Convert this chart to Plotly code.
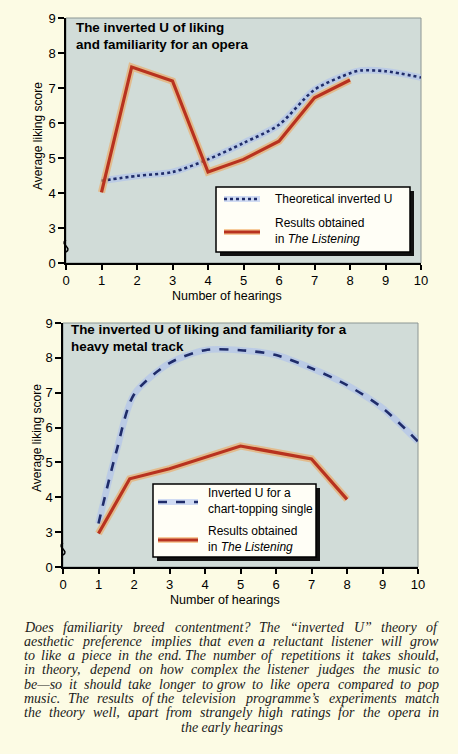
import plotly.graph_objects as go

W, H = 458, 754

# ---- data ----
hearings = list(range(11))
y_tickvals = [2, 3, 4, 5, 6, 7, 8, 9]
y_ticktext = ["0", "3", "4", "5", "6", "7", "8", "9"]

opera_theory_x = [1, 2, 3, 4, 5, 6, 7, 8, 8.3, 9, 10]
opera_theory_y = [4.35, 4.49, 4.6, 4.96, 5.43, 5.95, 6.95, 7.42, 7.5, 7.48, 7.3]
opera_result_x = [1, 1.85, 3, 4, 5, 6, 7, 8]
opera_result_y = [4.02, 7.6, 7.2, 4.6, 4.96, 5.48, 6.72, 7.23]

metal_theory_x = [1, 1.5, 2, 3, 4, 5, 6, 7, 8, 9, 10]
metal_theory_y = [3.25, 5.3, 6.95, 7.85, 8.22, 8.22, 8.08, 7.7, 7.22, 6.56, 5.6]
metal_result_x = [1, 1.88, 3, 5, 7, 8]
metal_result_y = [2.96, 4.53, 4.82, 5.47, 5.1, 3.94]

caption_lines = [
    "Does familiarity breed contentment? The \u201cinverted U\u201d theory of",
    "aesthetic preference implies that even a reluctant listener will grow",
    "to like a piece in the end. The number of repetitions it takes should,",
    "in theory, depend on how complex the listener judges the music to",
    "be\u2014so it should take longer to grow to like opera compared to pop",
    "music. The results of the television programme\u2019s experiments match",
    "the theory well, apart from strangely high ratings for the opera in",
    "the early hearings",
]

PAGE = "#fcfbe4"
PLOT_BG = "#d1dcd8"
RED = "#b8321f"
BLUE = "#1f2c6a"
SANS = "Liberation Sans"


def px(x):
    return x / W


def py(y):
    return 1 - y / H


fig = go.Figure()


def add_series(x, y, xa, ya, color, halo, dash, width, shape):
    # soft printed halo under each line
    fig.add_trace(go.Scatter(x=x, y=y, xaxis=xa, yaxis=ya, mode="lines",
                             line=dict(color=halo, width=width + 4, shape=shape, smoothing=0.8),
                             showlegend=False, hoverinfo="skip"))
    fig.add_trace(go.Scatter(x=x, y=y, xaxis=xa, yaxis=ya, mode="lines",
                             line=dict(color=color, width=width, dash=dash, shape=shape, smoothing=0.8),
                             showlegend=False))


RED_HALO = "rgba(240,160,80,0.55)"
BLUE_HALO = "rgba(170,190,240,0.55)"

add_series(opera_theory_x, opera_theory_y, "x", "y", BLUE, BLUE_HALO, "dot", 2.6, "spline")
add_series(opera_result_x, opera_result_y, "x", "y", RED, RED_HALO, "solid", 3.2, "linear")
add_series(metal_theory_x, metal_theory_y, "x2", "y2", BLUE, BLUE_HALO, "dash", 2.6, "spline")
add_series(metal_result_x, metal_result_y, "x2", "y2", RED, RED_HALO, "solid", 3.2, "linear")


def xaxis(domain, anchor):
    return dict(domain=domain, anchor=anchor, range=[0, 10], tickvals=hearings,
                ticks="outside", ticklen=5, tickwidth=1.5, tickcolor="black",
                showline=True, linecolor="black", linewidth=1.5,
                showgrid=False, zeroline=False, fixedrange=True, automargin=False,
                tickfont=dict(family=SANS, size=13, color="black"))


def yaxis(domain, anchor):
    return dict(domain=domain, anchor=anchor, range=[2, 9], tickvals=y_tickvals,
                ticktext=y_ticktext, ticks="outside", ticklen=6, tickwidth=1.5,
                tickcolor="black", showline=True, linecolor="black", linewidth=1.5,
                showgrid=False, zeroline=False, fixedrange=True, automargin=False,
                tickfont=dict(family=SANS, size=13, color="black"))


top_x = [px(66), px(421)]
top_y = [py(263), py(18)]
bot_x = [px(63), px(418)]
bot_y = [py(567), py(323)]

shapes = []
annotations = []

# thin grey frame on top / right of each plot
for xr, yr in (("x", "y"), ("x2", "y2")):
    shapes.append(dict(type="rect", xref=xr + " domain", yref=yr + " domain",
                       x0=0, x1=1, y0=0, y1=1, line=dict(color="#8c9694", width=1),
                       layer="below"))

# axis break squiggles
for (ax, ay) in ((66, 246), (63, 549)):
    path = "M {},{} C {},{} {},{} {},{}".format(
        px(ax), py(ay + 6), px(ax + 7), py(ay + 2), px(ax - 7), py(ay - 2), px(ax), py(ay - 6))
    shapes.append(dict(type="path", xref="paper", yref="paper", path=path,
                       line=dict(color="black", width=1.5)))


def note(text, x, y, size, xanchor="left", angle=0, family=SANS, style="normal", color="black"):
    annotations.append(dict(xref="paper", yref="paper", x=px(x), y=py(y),
                            xanchor=xanchor, yanchor="middle", showarrow=False,
                            textangle=angle, text=text, align="left",
                            font=dict(family=family, size=size, color=color, style=style)))


def legend_box(x0, y0, x1, y1, items):
    shapes.append(dict(type="rect", xref="paper", yref="paper",
                       x0=px(x0 + 4), x1=px(x1 + 4), y0=py(y1 + 4), y1=py(y0 + 4),
                       fillcolor="#111111", line=dict(width=0)))
    shapes.append(dict(type="rect", xref="paper", yref="paper",
                       x0=px(x0), x1=px(x1), y0=py(y1), y1=py(y0),
                       fillcolor="#fffef6", line=dict(color="black", width=1.5)))
    for (lx0, lx1, ly, color, halo, dash, tx, text, ty) in items:
        shapes.append(dict(type="line", xref="paper", yref="paper",
                           x0=px(lx0), x1=px(lx1), y0=py(ly), y1=py(ly),
                           line=dict(color=halo, width=6)))
        shapes.append(dict(type="line", xref="paper", yref="paper",
                           x0=px(lx0), x1=px(lx1), y0=py(ly), y1=py(ly),
                           line=dict(color=color, width=2.6 if dash != "solid" else 3.2, dash=dash)))
        note(text, tx, ty, 12)


legend_box(216, 187, 410, 252, [
    (224, 260, 199, BLUE, BLUE_HALO, "dot", 273, "Theoretical inverted U", 199),
    (224, 260, 232, RED, RED_HALO, "solid", 273, "Results obtained<br>in <i>The Listening</i>", 231),
])
legend_box(153, 484, 316, 557, [
    (158, 198, 502, BLUE, BLUE_HALO, "dash", 206, "Inverted U for a<br>chart-topping single", 501),
    (158, 198, 540, RED, RED_HALO, "solid", 206, "Results obtained<br>in <i>The Listening</i>", 539),
])

# titles inside the plots
note("<b>The inverted U of liking<br>and familiarity for an opera</b>", 74, 36, 13.4)
note("<b>The inverted U of liking and familiarity for a<br>heavy metal track</b>", 69, 338.5, 13.4)

# axis titles
for (x, y) in ((38, 136), (37, 438)):
    note("Average liking score", x, y, 12, xanchor="center", angle=-90)
for (x, y) in ((227, 296), (225, 600)):
    note("Number of hearings", x, y, 12.5, xanchor="center")

# caption, justified word by word (Times italic advance widths, per 1000 em)
TIMES_I = dict(zip("abcdefghijklmnopqrstuvwxyz",
                   [500, 500, 444, 500, 444, 278, 500, 500, 278, 278, 444, 278, 722,
                    500, 500, 500, 500, 389, 389, 278, 500, 444, 667, 444, 444, 389]))
TIMES_I.update({"D": 722, "T": 556, "U": 722, ".": 250, ",": 250, "?": 500,
                "\u2014": 889, "\u2019": 333, "\u201c": 556, "\u201d": 556, " ": 250})

CAP_SIZE = 14
CAP_LEFT, CAP_RIGHT = 22, 441
CAP_TOP, CAP_STEP = 627, 14.3


def word_width(w):
    return sum(TIMES_I.get(c, 500) for c in w) * CAP_SIZE / 1000 * 1.03


for i, line in enumerate(caption_lines):
    y = CAP_TOP + i * CAP_STEP
    cap = dict(size=CAP_SIZE, family="Liberation Serif", style="italic", color="#1a1a1a")
    if i == len(caption_lines) - 1:
        note(line, (CAP_LEFT + CAP_RIGHT) / 2, y, xanchor="center", **cap)
        continue
    words = line.split(" ")
    widths = [word_width(w) for w in words]
    gap = (CAP_RIGHT - CAP_LEFT - sum(widths)) / (len(words) - 1)
    half = len(words) // 2
    # left half placed from the left margin, right half from the right margin
    x = CAP_LEFT
    for j in range(half):
        note(words[j], x, y, xanchor="left", **cap)
        x += widths[j] + gap
    x = CAP_RIGHT
    for j in range(len(words) - 1, half - 1, -1):
        note(words[j], x, y, xanchor="right", **cap)
        x -= widths[j] + gap

fig.update_layout(
    width=W, height=H,
    margin=dict(l=0, r=0, t=0, b=0),
    paper_bgcolor=PAGE,
    plot_bgcolor=PLOT_BG,
    showlegend=False,
    xaxis=xaxis(top_x, "y"),
    yaxis=yaxis(top_y, "x"),
    xaxis2=xaxis(bot_x, "y2"),
    yaxis2=yaxis(bot_y, "x2"),
    shapes=shapes,
    annotations=annotations,
)

fig.write_html("out.html", config={"displayModeBar": False},
               post_script="document.body.style.margin='0';"
                           "document.body.style.background='" + PAGE + "';")
